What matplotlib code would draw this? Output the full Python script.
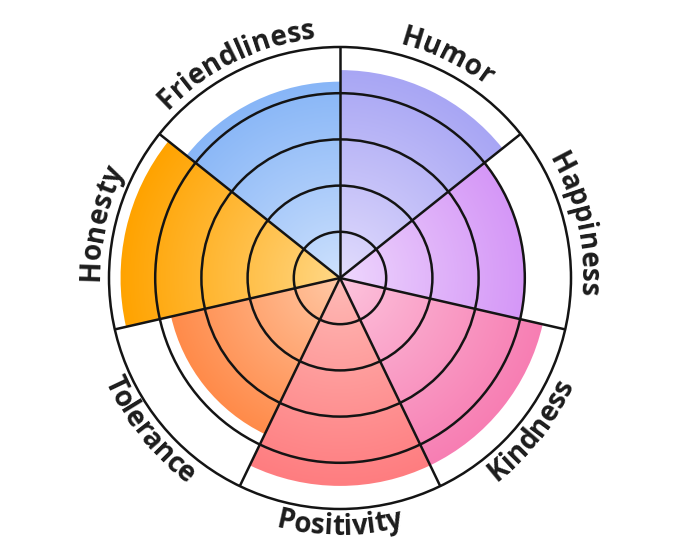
import numpy as np
import matplotlib
matplotlib.use('Agg')
import matplotlib.pyplot as plt
from matplotlib.patches import Wedge, Circle
from matplotlib.colors import to_rgb

# data (scale 0-10), clockwise from the top
labels = ['Humor', 'Happiness', 'Kindness', 'Positivity', 'Tolerance', 'Honesty', 'Friendliness']
values = [9.0, 8.0, 9.0, 9.0, 7.5, 9.5, 8.5]
inner_colors = ['#e4defd', '#efd9fd', '#fdc6de', '#ffbcb8', '#ffcaa8', '#ffd98a', '#cfe2fd']
outer_colors = ['#a8a6f4', '#d597f7', '#f77eb3', '#fe7d80', '#ff8b4a', '#ffa300', '#88b6f7']

n = len(labels)
step = 360.0 / n
start0 = 90.0   # first sector starts at the vertical line, going clockwise

W, H = 680, 557
cx, cy = 340, 557 - 278
ppu = 23.1   # pixels per unit

fig = plt.figure(figsize=(W / 100, H / 100), dpi=100)
ax = fig.add_axes([0, 0, 1, 1])
ax.set_xlim(-cx / ppu, (W - cx) / ppu)
ax.set_ylim(-cy / ppu, (H - cy) / ppu)
ax.axis('off')

# gradient fill of each sector
res = 500
g = np.linspace(-10, 10, res)
X, Y = np.meshgrid(g, g)
R = np.hypot(X, Y)
for i in range(n):
    a0 = start0 - step * (i + 1)
    a1 = start0 - step * i
    t = np.clip(R / values[i], 0, 1) ** 0.9
    c0 = np.array(to_rgb(inner_colors[i]))
    c1 = np.array(to_rgb(outer_colors[i]))
    img = c0[None, None, :] * (1 - t[..., None]) + c1[None, None, :] * t[..., None]
    im = ax.imshow(img, extent=(-10, 10, -10, 10), origin='lower', zorder=1,
                   interpolation='bilinear')
    w = Wedge((0, 0), values[i], a0, a1, transform=ax.transData)
    w.set_facecolor('none')
    w.set_edgecolor('none')
    ax.add_patch(w)
    im.set_clip_path(w)

# grid
lc = '#141414'
for r in [2, 4, 6, 8, 10]:
    ax.add_patch(Circle((0, 0), r, fill=False, ec=lc, lw=1.8, zorder=3))
for i in range(n):
    a = np.radians(start0 - step * i)
    ax.plot([0, 10 * np.cos(a)], [0, 10 * np.sin(a)], color=lc, lw=1.8, zorder=3,
            solid_capstyle='butt')

# curved labels
fp = dict(family='Open Sans', weight='bold', size=20)
renderer = fig.canvas.get_renderer()


def prefix_width(s):
    if not s:
        return 0.0
    t = ax.text(0, 0, s, **fp)
    w = t.get_window_extent(renderer).width
    t.remove()
    return w


for i, lab in enumerate(labels):
    mid = start0 - step * (i + 0.5)
    flip = np.sin(np.radians(mid)) < 0
    widths = [prefix_width(lab[:k]) for k in range(len(lab) + 1)]
    total = widths[-1]
    rb = 11.12 if flip else 10.43
    rpx = rb * ppu
    for k, ch in enumerate(lab):
        s_mid = (widths[k] + widths[k + 1]) / 2.0
        d = np.degrees((total / 2.0 - s_mid) / rpx)
        if flip:
            ang = mid - d
            rot = ang + 90
        else:
            ang = mid + d
            rot = ang - 90
        ax.text(rb * np.cos(np.radians(ang)), rb * np.sin(np.radians(ang)), ch,
                rotation=rot, rotation_mode='anchor', ha='center', va='baseline',
                color='#1c1c1c', zorder=4, **fp)

fig.savefig('out.png', dpi=100)
